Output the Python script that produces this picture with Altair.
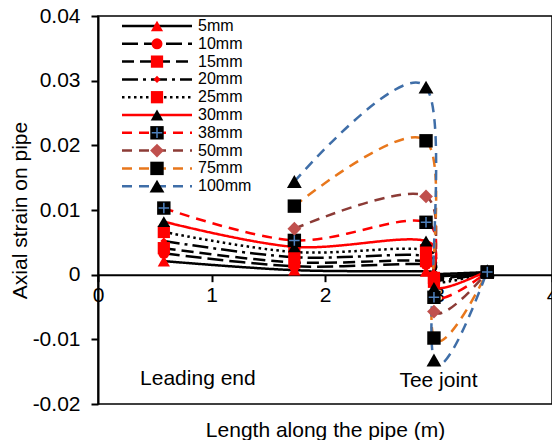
import altair as alt
import pandas as pd

# ---- data ----
x_pos = [0.58, 1.73, 2.89, 2.96, 3.43]
series_names = ["5mm", "10mm", "15mm", "20mm", "25mm", "30mm", "38mm", "50mm", "75mm", "100mm"]
s5 = [0.0021, 0.0007, 0.0005, 0.0001, 0.0004]
s10 = [0.0033, 0.0013, 0.0016, -0.0002, 0.0004]
s15 = [0.0041, 0.0019, 0.0021, -0.0005, 0.0004]
s20 = [0.0052, 0.0027, 0.0029, -0.0008, 0.0004]
s25 = [0.0066, 0.0035, 0.0038, -0.0011, 0.0004]
s30 = [0.0082, 0.0043, 0.0052, -0.0020, 0.0006]
s38 = [0.0103, 0.0053, 0.0081, -0.0035, 0.0004]
s50 = [None, 0.0071, 0.0121, -0.0057, 0.0004]
s75 = [None, 0.0106, 0.0207, -0.0098, 0.0004]
s100 = [None, 0.0144, 0.0290, -0.0132, 0.0006]
all_series = [s5, s10, s15, s20, s25, s30, s38, s50, s75, s100]

y_ticks = [-0.02, -0.01, 0.0, 0.01, 0.02, 0.03, 0.04]
x_ticks = [0, 1, 2, 3, 4]

ann_text = ["Leading end", "Tee joint"]
ann_x = [0.88, 3.0]
ann_y = [-0.0161, -0.0164]

# ---- styles ----
FONT = "Liberation Sans"
line_colors = ["#000000"] * 5 + ["#FF0000", "#FF0000", "#8C3B36", "#E8771C", "#3F6EA8"]
fill_colors = ["#FF0000"] * 5 + ["#000000", "#000000", "#C0504D", "#000000", "#000000"]
shapes = ["triangle-up", "circle", "square", "diamond", "square",
          "triangle-up", "square", "diamond", "square", "triangle-up"]
sizes = [150, 120, 150, 50, 150, 160, 180, 190, 180, 220]
dashes = [[1, 0], [16, 6], [12, 6], [16, 5, 3, 5], [2.5, 3.5],
          [1, 0], [10, 7], [10, 7], [10, 7], [10, 7]]

W, H = 454, 388
PAD = {"left": 90, "top": 8, "right": 0, "bottom": 36}
Y_MIN, Y_MAX = -0.02, 0.04

rows = []
for name, vals in zip(series_names, all_series):
    for xv, yv in zip(x_pos, vals):
        if yv is not None:
            rows.append({"series": name, "x": xv, "y": yv})
df = pd.DataFrame(rows)
ann_df = pd.DataFrame({"text": ann_text, "x": ann_x, "y": ann_y})
leg_df = pd.DataFrame({"series": series_names,
                       "ly": [10 + i * 17.8 for i in range(len(series_names))]})

color_scale = alt.Scale(domain=series_names, range=line_colors)
fill_scale = alt.Scale(domain=series_names, range=fill_colors)
shape_scale = alt.Scale(domain=series_names, range=shapes)
size_scale = alt.Scale(type="ordinal", domain=series_names, range=sizes)
dash_scale = alt.Scale(domain=series_names, range=dashes)

x_offset = -(H * (0 - Y_MIN) / (Y_MAX - Y_MIN))

x_enc = alt.X("x:Q", scale=alt.Scale(domain=[0, 4], nice=False),
              axis=alt.Axis(values=x_ticks, format="d", offset=x_offset, grid=False,
                            tickSize=7, tickWidth=2, domainWidth=2, domainColor="black",
                            tickColor="black", labelFontSize=21, labelFont=FONT,
                            labelColor="black", labelPadding=3, labelFlush=False,
                            title="Length along the pipe (m)", titleFontSize=21,
                            titleFont=FONT, titleFontWeight="normal", titleColor="black",
                            titleY=145, titleBaseline="top"))
y_enc = alt.Y("y:Q", scale=alt.Scale(domain=[Y_MIN, Y_MAX], nice=False),
              axis=alt.Axis(values=y_ticks, grid=False,
                            labelExpr="datum.value == 0 ? '0' : replace(format(datum.value, '.2f'), '\u2212', '-')",
                            tickSize=7, tickWidth=2, domainWidth=2, domainColor="black",
                            tickColor="black", labelFontSize=21, labelFont=FONT,
                            labelColor="black", labelPadding=11,
                            title="Axial strain on pipe", titleFontSize=21, titleFont=FONT,
                            titleFontWeight="normal", titleColor="black", titlePadding=2))

base = alt.Chart(df)
lines = base.mark_line(interpolate="cardinal", strokeWidth=2.5).encode(
    x=x_enc, y=y_enc,
    color=alt.Color("series:N", scale=color_scale, legend=None),
    strokeDash=alt.StrokeDash("series:N", scale=dash_scale, legend=None),
)
points = base.mark_point(filled=True, opacity=1, strokeWidth=0).encode(
    x="x:Q", y="y:Q",
    shape=alt.Shape("series:N", scale=shape_scale, legend=None),
    fill=alt.Fill("series:N", scale=fill_scale, legend=None),
    size=alt.Size("series:N", scale=size_scale, legend=None),
)
cross = base.transform_filter(alt.datum.series == "38mm").mark_point(
    shape="M-1,0L1,0M0,-1L0,1", filled=False, stroke="#4F81BD", strokeWidth=1.5,
    size=110, opacity=1).encode(x="x:Q", y="y:Q")
ann = alt.Chart(ann_df).mark_text(fontSize=21, font=FONT, color="black").encode(
    x="x:Q", y="y:Q", text="text:N")

leg_y = alt.Y("ly:Q", scale=None, axis=None)
leg_base = alt.Chart(leg_df)
leg_lines = leg_base.mark_rule(strokeWidth=2.5).encode(
    x=alt.value(24), x2=alt.value(94), y=leg_y,
    color=alt.Color("series:N", scale=color_scale, legend=None),
    strokeDash=alt.StrokeDash("series:N", scale=dash_scale, legend=None),
)
leg_points = leg_base.mark_point(filled=True, opacity=1, strokeWidth=0).encode(
    x=alt.value(59), y=leg_y,
    shape=alt.Shape("series:N", scale=shape_scale, legend=None),
    fill=alt.Fill("series:N", scale=fill_scale, legend=None),
    size=alt.Size("series:N", scale=size_scale, legend=None),
)
leg_cross = leg_base.transform_filter(alt.datum.series == "38mm").mark_point(
    shape="M-1,0L1,0M0,-1L0,1", filled=False, stroke="#4F81BD", strokeWidth=1.5,
    size=110, opacity=1).encode(x=alt.value(59), y=leg_y)
leg_text = leg_base.mark_text(align="left", baseline="middle", fontSize=16,
                              font=FONT, color="black").encode(
    x=alt.value(100), y=leg_y, text="series:N")

main = alt.layer(lines, points, cross, ann)
legend = alt.layer(leg_lines, leg_points, leg_cross, leg_text)

chart = alt.layer(main, legend).resolve_scale(x="independent", y="independent").properties(
    width=W, height=H,
    autosize=alt.AutoSizeParams(type="none"),
    padding=PAD,
).configure_view(stroke="black", strokeWidth=1.5)

chart.save("out.html", embed_options={"renderer": "svg", "actions": False})
